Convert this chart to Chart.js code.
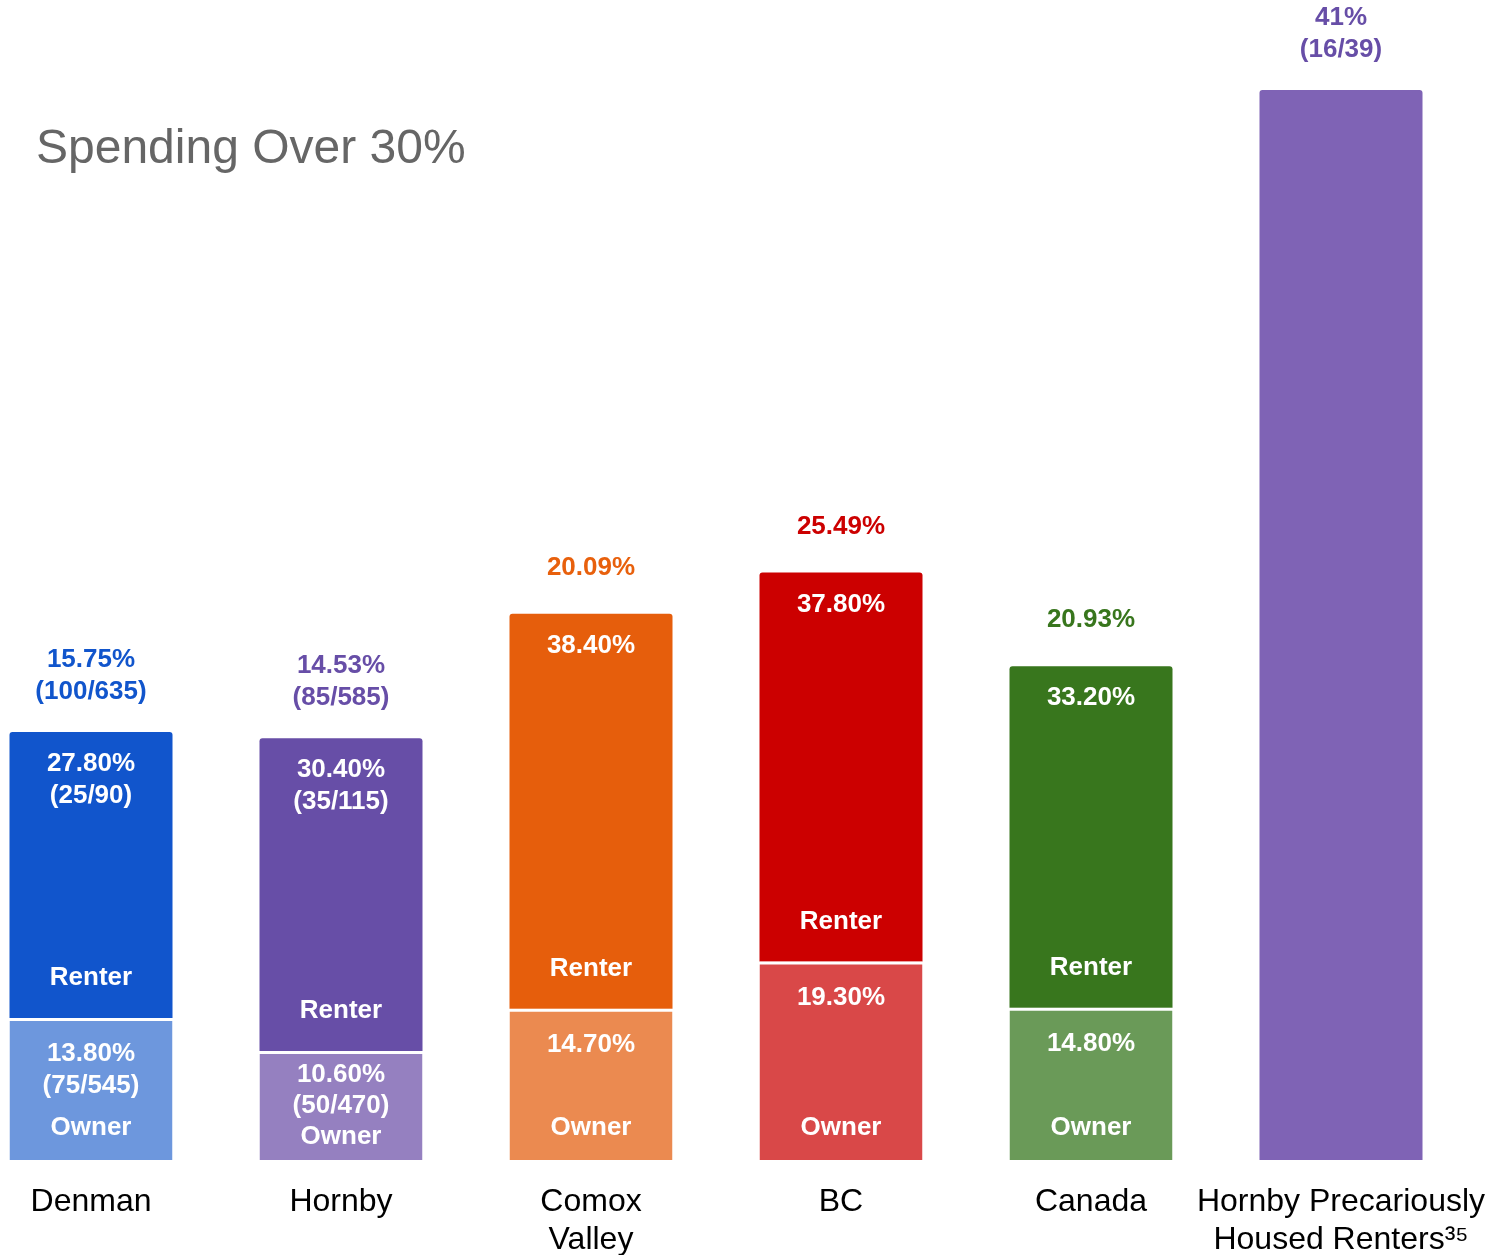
<!DOCTYPE html>
<html>
<head>
<meta charset="utf-8">
<title>Spending Over 30%</title>
<script src="https://cdn.jsdelivr.net/npm/chart.js@4.4.1/dist/chart.umd.min.js"></script>
<style>
    html, body {
        margin: 0;
        padding: 0;
        background: #fff;
        overflow: hidden;
    }
    #wrap {
        position: absolute;
        left: -34px;
        top: 0;
        width: 1560px;
        height: 1255px;
    }
    #title {
        position: absolute;
        left: 36px;
        top: 122px;
        font: 48px "Liberation Sans", Arial, sans-serif;
        line-height: 50px;
        color: #666;
        z-index: 2;
    }
</style>
</head>
<body>
<div id="title">Spending Over 30%</div>
<div id="wrap"><canvas id="spendingChart"></canvas></div>
<script>
const categories = [
    ['Denman'],
    ['Hornby'],
    ['Comox', 'Valley'],
    ['BC'],
    ['Canada'],
    ['Hornby Precariously', 'Housed Renters³⁵'],
];
const ownerPct = [13.8, 10.6, 14.7, 19.3, 14.8, null];
const ownerCounts = ['(75/545)', '(50/470)', '', '', '', ''];
const renterPct = [27.8, 30.4, 38.4, 37.8, 33.2, null];
const renterCounts = ['(25/90)', '(35/115)', '', '', '', ''];
const precariousPct = [null, null, null, null, null, 41];
const overallPct = [15.75, 14.53, 20.09, 25.49, 20.93, 41];
const overallCounts = ['(100/635)', '(85/585)', '', '', '', '(16/39)'];

const ownerColors = ['#6d97dd', '#9580c0', '#eb8a50', '#d94848', '#6a9a58', '#6a9a58'];
const renterColors = ['#1155cc', '#674ea7', '#e65e0c', '#cc0000', '#38761d', '#38761d'];
const overallColors = ['#1155cc', '#674ea7', '#e8600c', '#cc0000', '#38761d', '#674ea7'];
const precariousColor = '#7f63b5';

const FONT = '"Liberation Sans", Arial, sans-serif';

function pct(v) {
    return v.toFixed(2) + '%';
}

// writes the percentages and Owner/Renter names onto the bars
const segmentLabels = {
    id: 'segmentLabels',
    afterDatasetsDraw(chart) {
        const ctx = chart.ctx;
        const owner = chart.getDatasetMeta(0).data;
        const renter = chart.getDatasetMeta(1).data;
        const prec = chart.getDatasetMeta(2).data;

        ctx.save();
        ctx.textAlign = 'center';
        ctx.textBaseline = 'middle';
        ctx.font = 'bold 26px ' + FONT;

        categories.forEach((cat, i) => {
            let topBar;
            if (ownerPct[i] !== null) {
                ctx.fillStyle = '#fff';

                const o = owner[i];
                const oLines = [pct(ownerPct[i]), ownerCounts[i]].filter(Boolean);
                if (o.base - o.y < 120) {
                    [...oLines, 'Owner'].forEach((t, k) => ctx.fillText(t, o.x, o.y + 24 + k * 31));
                } else {
                    oLines.forEach((t, k) => ctx.fillText(t, o.x, o.y + 36 + k * 32));
                    ctx.fillText('Owner', o.x, o.base - 32);
                }

                const r = renter[i];
                const rLines = [pct(renterPct[i]), renterCounts[i]].filter(Boolean);
                rLines.forEach((t, k) => ctx.fillText(t, r.x, r.y + 32 + k * 32));
                ctx.fillText('Renter', r.x, r.base - 40);
                topBar = r;
            } else {
                topBar = prec[i];
            }

            const above = [overallPct[i] + '%', overallCounts[i]].filter(Boolean);
            const gap = above.length > 1 ? 40 : 46;
            ctx.fillStyle = overallColors[i];
            above.forEach((t, k) => {
                ctx.fillText(t, topBar.x, topBar.y - gap - (above.length - 1 - k) * 32);
            });
        });
        ctx.restore();
    },
};

document.addEventListener('DOMContentLoaded', () => {
    const ctx = document.getElementById('spendingChart');

    new Chart(ctx, {
        type: 'bar',
        data: {
            labels: categories,
            datasets: [
                {
                    label: 'Owner',
                    data: ownerPct,
                    backgroundColor: ownerColors,
                    borderColor: '#fff',
                    borderWidth: { top: 3, right: 0, bottom: 0, left: 0 },
                    yAxisID: 'y',
                },
                {
                    label: 'Renter',
                    data: renterPct,
                    backgroundColor: renterColors,
                    borderRadius: { topLeft: 3, topRight: 3, bottomLeft: 0, bottomRight: 0 },
                    borderSkipped: 'start',
                    yAxisID: 'y',
                },
                {
                    label: 'Hornby Precariously Housed Renters',
                    data: precariousPct,
                    backgroundColor: precariousColor,
                    borderRadius: { topLeft: 3, topRight: 3, bottomLeft: 0, bottomRight: 0 },
                    borderSkipped: 'start',
                    yAxisID: 'yP',
                },
            ],
        },
        options: {
            responsive: true,
            maintainAspectRatio: false,
            animation: false,
            barPercentage: 0.652,
            categoryPercentage: 1,
            layout: {
                padding: { top: 90, right: 60, bottom: 0, left: 0 },
            },
            plugins: {
                legend: { display: false },
                tooltip: { enabled: false },
            },
            scales: {
                x: {
                    stacked: true,
                    grid: { display: false, drawTicks: false },
                    border: { display: false },
                    afterFit: (scale) => { scale.height = 95; },
                    ticks: {
                        autoSkip: false,
                        maxRotation: 0,
                        minRotation: 0,
                        padding: 23,
                        color: '#000',
                        font: { family: FONT, size: 32, lineHeight: 1.2 },
                    },
                },
                y: {
                    stacked: true,
                    display: false,
                    min: 0,
                    max: 104,
                },
                yP: {
                    stacked: true,
                    display: false,
                    min: 0,
                    max: 41,
                },
            },
        },
        plugins: [segmentLabels],
    });
});
</script>
</body>
</html>
